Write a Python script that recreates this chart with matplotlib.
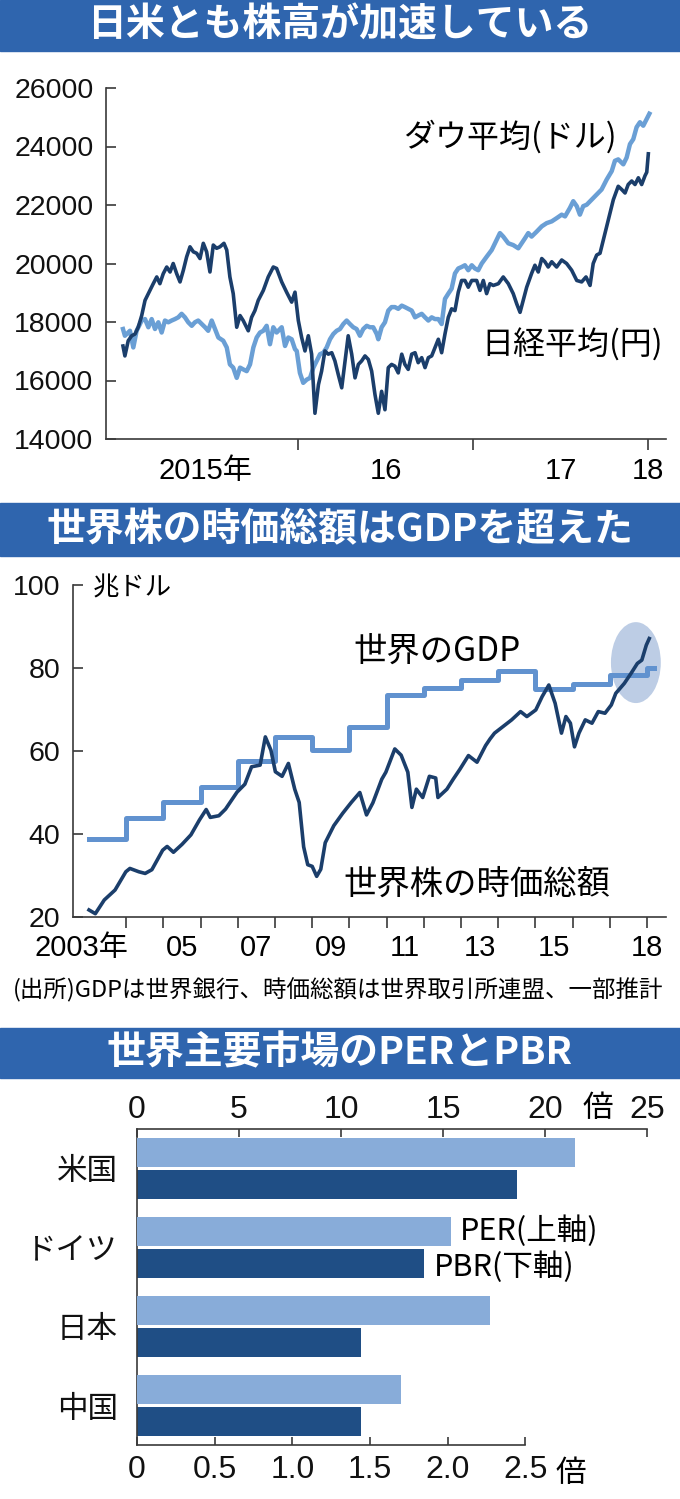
import matplotlib
matplotlib.use('Agg')
import matplotlib.pyplot as plt
import numpy as np
from matplotlib.patches import Rectangle, Ellipse
from matplotlib.transforms import blended_transform_factory

plt.rcParams['font.family'] = ['Noto Sans CJK JP', 'DejaVu Sans']
DIGITS = ['Liberation Sans', 'Noto Sans CJK JP']

# --- panel 1: Nikkei / Dow (weekly-ish readings) ---
nikkei_years = [
    2015.00, 2015.011, 2015.030, 2015.050, 2015.069, 2015.087, 2015.107, 2015.126, 2015.145,
    2015.173, 2015.193, 2015.211, 2015.230, 2015.250, 2015.269, 2015.287, 2015.307, 2015.326,
    2015.345, 2015.364, 2015.383, 2015.402, 2015.421, 2015.440, 2015.459, 2015.478, 2015.497,
    2015.516, 2015.535, 2015.554, 2015.577, 2015.593, 2015.611, 2015.630, 2015.650, 2015.669,
    2015.687, 2015.716, 2015.735, 2015.754, 2015.773, 2015.802, 2015.830, 2015.859, 2015.878,
    2015.907, 2015.935, 2015.964, 2015.983, 2016.002, 2016.021, 2016.040, 2016.059, 2016.078,
    2016.097, 2016.117, 2016.135, 2016.154, 2016.173, 2016.193, 2016.211, 2016.230, 2016.250,
    2016.269, 2016.287, 2016.307, 2016.326, 2016.345, 2016.364, 2016.383, 2016.402, 2016.421,
    2016.440, 2016.459, 2016.478, 2016.497, 2016.516, 2016.535, 2016.554, 2016.573, 2016.593,
    2016.611, 2016.630, 2016.650, 2016.669, 2016.687, 2016.707, 2016.726, 2016.745, 2016.764,
    2016.783, 2016.802, 2016.821, 2016.840, 2016.859, 2016.878, 2016.897, 2016.916, 2016.935,
    2016.954, 2016.973, 2016.993, 2017.021, 2017.040, 2017.059, 2017.078, 2017.097, 2017.116,
    2017.145, 2017.173, 2017.202, 2017.230, 2017.250, 2017.269, 2017.287, 2017.307, 2017.335,
    2017.354, 2017.373, 2017.393, 2017.411, 2017.430, 2017.450, 2017.478, 2017.507, 2017.535,
    2017.564, 2017.593, 2017.621, 2017.646, 2017.669, 2017.687, 2017.707, 2017.726, 2017.745,
    2017.773, 2017.802, 2017.830, 2017.850, 2017.869, 2017.887, 2017.907, 2017.926, 2017.945,
    2017.964, 2017.983, 2017.993, 2018.002,
]
nikkei_values = [
    17180, 16840, 17360, 17530, 17590, 17820, 18220, 18740, 18970,
    19310, 19540, 19310, 19650, 19880, 19710, 20000, 19650, 19370,
    19770, 20230, 20570, 20400, 20350, 20170, 20690, 20400, 19710,
    20630, 20520, 20570, 20690, 20460, 19540, 18970, 17820, 18220,
    18050, 17700, 18160, 18390, 18740, 19080, 19540, 19880, 19830,
    19370, 19020, 18680, 19020, 18050, 17470, 17010, 17530, 16900,
    14880, 15860, 16320, 17010, 16900, 16950, 16670, 16210, 15750,
    16670, 17530, 16900, 16090, 16550, 16670, 16840, 16720, 16320,
    15520, 14880, 15630, 15000, 16440, 16550, 16490, 16260, 16900,
    16550, 16380, 16900, 16950, 16610, 16780, 16440, 16780, 16840,
    17120, 17410, 16950, 17590, 18160, 18450, 18390, 19020, 19420,
    19420, 19190, 19420, 19420, 19080, 19420, 18970, 19310, 19250,
    19310, 19540, 19310, 18970, 18620, 18330, 18740, 19190, 19660,
    19940, 19710, 20170, 20060, 19880, 20060, 19880, 20120, 20000,
    19770, 19420, 19370, 19540, 19250, 20000, 20290, 20350, 20810,
    21490, 22180, 22640, 22530, 22410, 22700, 22820, 22700, 22930,
    22700, 23000, 23120, 23750,
]
dow_years = [
    2015.00, 2015.011, 2015.040, 2015.059, 2015.078, 2015.107, 2015.126, 2015.145, 2015.164,
    2015.183, 2015.202, 2015.221, 2015.240, 2015.259, 2015.278, 2015.297, 2015.316, 2015.335,
    2015.354, 2015.373, 2015.393, 2015.411, 2015.430, 2015.450, 2015.469, 2015.487, 2015.507,
    2015.526, 2015.545, 2015.573, 2015.593, 2015.611, 2015.630, 2015.650, 2015.669, 2015.687,
    2015.707, 2015.726, 2015.745, 2015.764, 2015.783, 2015.802, 2015.821, 2015.840, 2015.859,
    2015.878, 2015.907, 2015.926, 2015.945, 2015.964, 2015.983, 2015.993, 2016.011, 2016.030,
    2016.050, 2016.069, 2016.088, 2016.107, 2016.126, 2016.145, 2016.164, 2016.183, 2016.202,
    2016.221, 2016.240, 2016.259, 2016.278, 2016.297, 2016.316, 2016.335, 2016.354, 2016.373,
    2016.393, 2016.411, 2016.430, 2016.450, 2016.459, 2016.478, 2016.497, 2016.516, 2016.535,
    2016.554, 2016.573, 2016.593, 2016.611, 2016.630, 2016.650, 2016.669, 2016.687, 2016.707,
    2016.726, 2016.745, 2016.764, 2016.783, 2016.802, 2016.821, 2016.840, 2016.859, 2016.878,
    2016.897, 2016.916, 2016.935, 2016.954, 2016.973, 2016.993, 2017.011, 2017.030, 2017.050,
    2017.078, 2017.107, 2017.135, 2017.154, 2017.173, 2017.202, 2017.230, 2017.259, 2017.278,
    2017.297, 2017.316, 2017.335, 2017.364, 2017.393, 2017.421, 2017.450, 2017.478, 2017.507,
    2017.526, 2017.554, 2017.573, 2017.593, 2017.611, 2017.630, 2017.650, 2017.678, 2017.707,
    2017.735, 2017.764, 2017.793, 2017.811, 2017.830, 2017.859, 2017.878, 2017.897, 2017.916,
    2017.935, 2017.954, 2017.973, 2017.993, 2018.008,
]
dow_values = [
    17760, 17530, 17700, 17130, 17700, 18050, 18100, 17820, 18100,
    17760, 17990, 17640, 18050, 17990, 18050, 18100, 18160, 18280,
    18160, 17990, 17870, 17990, 18050, 17930, 17820, 17700, 18050,
    17760, 17470, 17360, 17130, 16550, 16440, 16090, 16440, 16380,
    16320, 16550, 17130, 17470, 17640, 17700, 17870, 17240, 17820,
    17640, 17820, 17180, 17470, 17410, 17070, 17010, 16260, 15920,
    16030, 16090, 16440, 16670, 16900, 16950, 17130, 17410, 17590,
    17700, 17760, 17930, 18050, 17930, 17820, 17760, 17530, 17760,
    17870, 17820, 17820, 17590, 17410, 17820, 17990, 18390, 18510,
    18510, 18450, 18560, 18510, 18450, 18390, 18160, 18220, 18280,
    18160, 18050, 18160, 18100, 18100, 17930, 18790, 18970, 19140,
    19660, 19830, 19880, 19940, 19770, 19940, 19830, 19770, 20000,
    20230, 20460, 20810, 21040, 20920, 20690, 20630, 20520, 20690,
    20860, 21040, 20920, 21090, 21270, 21380, 21440, 21550, 21670,
    21610, 21900, 22130, 21960, 21670, 21960, 22010, 22180, 22360,
    22530, 22870, 23160, 23510, 23560, 23390, 23620, 24080, 24250,
    24660, 24830, 24710, 24940, 25120,
]
p1_ticks = [2016, 2017, 2018]
p1_label_pos = [2015.47, 2016.5, 2017.5, 2018.0]
p1_labels = ['2015年', '16', '17', '18']

# --- panel 2: world market cap vs world GDP (trillion USD) ---
gdp_years = [2003, 2004, 2005, 2006, 2007, 2008, 2009, 2010, 2011, 2012,
             2013, 2014, 2015, 2016, 2017, 2018]
gdp_values = [38.9, 43.9, 47.6, 51.3, 57.5, 63.4, 60.2, 65.9, 73.4, 75.1,
              77.2, 79.3, 74.9, 76.1, 78.3, 80.1]
gdp_end = 2018.2
mcap_years = [
    2003.00, 2003.17, 2003.41, 2003.70, 2003.99, 2004.10, 2004.34, 2004.51, 2004.69, 2004.98,
    2005.10, 2005.27, 2005.50, 2005.74, 2005.97, 2006.15, 2006.26, 2006.49, 2006.67, 2006.98,
    2007.19, 2007.37, 2007.60, 2007.74, 2007.89, 2008.01, 2008.19, 2008.36, 2008.53, 2008.65,
    2008.77, 2008.88, 2009.00, 2009.12, 2009.23, 2009.35, 2009.58, 2009.82, 2010.05, 2010.28,
    2010.46, 2010.63, 2010.87, 2010.98, 2011.22, 2011.39, 2011.57, 2011.68, 2011.80, 2011.97,
    2012.15, 2012.32, 2012.38, 2012.62, 2012.79, 2012.97, 2013.20, 2013.43, 2013.66, 2013.78,
    2013.90, 2014.13, 2014.36, 2014.60, 2014.77, 2015.01, 2015.18, 2015.36, 2015.53, 2015.70,
    2015.82, 2015.94, 2016.05, 2016.17, 2016.34, 2016.52, 2016.69, 2016.87, 2017.04, 2017.16,
    2017.39, 2017.57, 2017.74, 2017.86, 2017.98, 2018.06,
]
mcap_values = [
    21.7, 20.8, 24.1, 26.5, 30.9, 31.7, 30.9, 30.5, 31.4, 36.1,
    37.0, 35.6, 37.5, 39.8, 43.4, 45.9, 44.0, 44.4, 46.0, 50.1,
    52.0, 56.2, 56.6, 63.4, 60.2, 55.0, 53.9, 57.0, 50.8, 47.6,
    36.9, 32.6, 32.2, 29.8, 31.5, 37.9, 42.0, 45.0, 47.6, 50.0,
    44.6, 47.5, 53.2, 54.9, 60.5, 59.0, 54.9, 46.4, 50.8, 48.8,
    53.9, 53.5, 48.8, 50.8, 53.2, 55.6, 58.9, 57.3, 61.3, 62.9,
    64.3, 65.9, 67.5, 69.5, 68.3, 69.9, 73.1, 75.9, 71.5, 64.3,
    68.3, 66.7, 61.0, 64.3, 67.5, 66.7, 69.5, 69.1, 71.1, 73.9,
    76.3, 78.7, 81.1, 81.9, 85.5, 87.1,
]
p2_ticks = list(range(2004, 2019))
p2_label_pos = [2002.8, 2005.5, 2007.5, 2009.5, 2011.5, 2013.5, 2015.5, 2018.0]
p2_labels = ['2003年', '05', '07', '09', '11', '13', '15', '18']

# --- panel 3: PER / PBR ---
countries = ['米国', 'ドイツ', '日本', '中国']
per = [21.45, 15.4, 17.3, 12.95]
pbr = [2.45, 1.85, 1.44, 1.44]

BANNER = '#2f65ae'
DARK = '#1b3e6b'
LIGHT = '#6a9fd5'
GDP_C = '#6192cf'
PER_C = '#88acd9'
PBR_C = '#1f4e85'
SPINE = '#3a3a3a'

W, H = 680, 1499
fig = plt.figure(figsize=(W / 100, H / 100), dpi=100)


def frac_box(left, top, right, bottom):
    """pixel box -> fig.add_axes rect"""
    return [left / W, 1 - bottom / H, (right - left) / W, (bottom - top) / H]


def banner(top, bottom, text):
    fig.patches.append(Rectangle((0, 1 - bottom / H), 1, (bottom - top) / H,
                                 transform=fig.transFigure, color=BANNER, zorder=0))
    fig.text(0.5, 1 - (top + bottom) / 2 / H, text, color='white', fontsize=28,
             fontweight='bold', ha='center', va='center')


def style_axes(ax):
    ax.spines[['top', 'right']].set_visible(False)
    for s in ('left', 'bottom'):
        ax.spines[s].set_color(SPINE)
        ax.spines[s].set_linewidth(1.2)
    ax.tick_params(colors=SPINE, width=1.2, labelcolor='#111111')


# ---------- panel 1 ----------
banner(0, 51, '日米とも株高が加速している')
ax1 = fig.add_axes(frac_box(106, 88, 666, 439))
ax1.plot(dow_years, dow_values, color=LIGHT, lw=3.2, solid_joinstyle='round', zorder=2)
ax1.plot(nikkei_years, nikkei_values, color=DARK, lw=2.6, solid_joinstyle='round', zorder=3)
ax1.set_xlim(2014.903, 2018.103)
ax1.set_ylim(14000, 26000)
style_axes(ax1)
ax1.set_yticks(range(14000, 26001, 2000))
ax1.tick_params(axis='y', direction='in', length=7, pad=9, labelsize=20.5, labelfontfamily=DIGITS)
ax1.set_xticks(p1_ticks, labels=[''] * len(p1_ticks))
ax1.set_xticks(p1_label_pos, labels=p1_labels, minor=True)
ax1.xaxis.remove_overlapping_locs = False
ax1.tick_params(axis='x', which='major', direction='out', length=8)
ax1.tick_params(axis='x', which='minor', length=0, pad=13, labelsize=21, labelfontfamily=DIGITS)
ax1.text(2016.6, 24330, 'ダウ平均(ドル)', fontsize=23, ha='left', va='center')
ax1.text(2017.05, 17210, '日経平均(円)', fontsize=23, ha='left', va='center')

# ---------- panel 2 ----------
banner(503, 556, '世界株の時価総額はGDPを超えた')
ax2 = fig.add_axes(frac_box(73, 585, 666, 917))
ax2.add_patch(Ellipse((2017.70, 81.3), 1.34, 19.5, color='#bdcde5', lw=0, zorder=1))
ax2.step(gdp_years + [gdp_end], gdp_values + [gdp_values[-1]], where='post',
         color=GDP_C, lw=3.6, zorder=2)
ax2.plot(mcap_years, mcap_values, color=DARK, lw=2.6, solid_joinstyle='round', zorder=3)
ax2.set_xlim(2002.57, 2018.51)
ax2.set_ylim(20, 100)
style_axes(ax2)
ax2.set_yticks(range(20, 101, 20))
ax2.tick_params(axis='y', direction='in', length=7, pad=9, labelsize=20.5, labelfontfamily=DIGITS)
ax2.set_xticks(p2_ticks, labels=[''] * len(p2_ticks))
ax2.set_xticks(p2_label_pos, labels=p2_labels, minor=True)
ax2.xaxis.remove_overlapping_locs = False
ax2.tick_params(axis='x', which='major', direction='out', length=8)
ax2.tick_params(axis='x', which='minor', length=0, pad=12, labelsize=21, labelfontfamily=DIGITS)
ax2.text(2003.1, 99.3, '兆ドル', fontsize=19, ha='left', va='center')
ax2.text(2010.1, 84.1, '世界のGDP', fontsize=24, ha='left', va='center')
ax2.text(2009.85, 27.8, '世界株の時価総額', fontsize=24, ha='left', va='center')
fig.text(13 / W, 1 - 990 / H, '(出所)GDPは世界銀行、時価総額は世界取引所連盟、一部推計',
         fontsize=16.9, ha='left', va='center')

# ---------- panel 3 ----------
banner(1028, 1078, '世界主要市場のPERとPBR')
ax3 = fig.add_axes(frac_box(137, 1129, 647, 1445))
ax3t = ax3.twiny()
ypos = np.arange(len(countries))
ax3t.barh(ypos - 0.2, per, height=0.365, color=PER_C, lw=0)
ax3.barh(ypos + 0.2, pbr, height=0.365, color=PBR_C, lw=0)
ax3.set_ylim(3.5, -0.5)
ax3.set_xlim(0, 510 / 155.3)
ax3t.set_xlim(0, 25)

style_axes(ax3)
ax3.spines['bottom'].set_bounds(0, 2.5)
ax3t.spines[['bottom', 'right', 'left']].set_visible(False)
ax3t.spines['top'].set_color(SPINE)
ax3t.spines['top'].set_linewidth(1.2)

ax3.set_xticks([0, 0.5, 1.0, 1.5, 2.0, 2.5], labels=['0', '0.5', '1.0', '1.5', '2.0', '2.5'])
ax3.tick_params(axis='x', direction='in', length=6, pad=7, labelsize=23, labelfontfamily=DIGITS)
ax3t.set_xticks([0, 5, 10, 15, 20, 25])
ax3t.tick_params(axis='x', direction='in', length=6, width=1.2, colors=SPINE,
                 labelcolor='#111111', pad=3, labelsize=23, labelfontfamily=DIGITS)
ax3.set_yticks(ypos, labels=countries)
ax3.tick_params(axis='y', length=0, pad=14, labelsize=22)

top_tf = blended_transform_factory(ax3t.transData, ax3t.transAxes)
ax3t.text(22.6, 1.066, '倍', transform=top_tf, fontsize=22, ha='center', va='center')
bot_tf = blended_transform_factory(ax3.transData, ax3.transAxes)
ax3.text(2.79, -0.089, '倍', transform=bot_tf, fontsize=22, ha='center', va='center')
ax3t.text(15.85, 0.79, 'PER(上軸)', fontsize=22, ha='left', va='center')
ax3.text(1.91, 1.25, 'PBR(下軸)', fontsize=22, ha='left', va='center')

fig.savefig('out.png', dpi=100)
